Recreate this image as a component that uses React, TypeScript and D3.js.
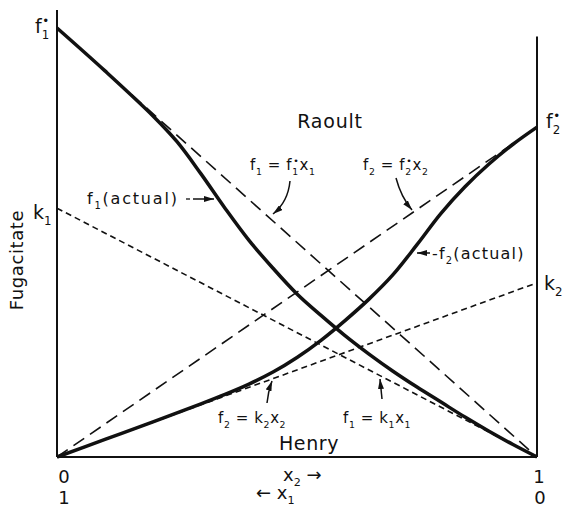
import React from "react";
import * as d3 from "d3";

// Mole fraction of component 2 (x2); x1 = 1 - x2
const f1Actual: [number, number][] = [
  [0, 1.0], [0.1, 0.9], [0.2, 0.795], [0.25, 0.735], [0.3, 0.66], [0.35, 0.58],
  [0.4, 0.505], [0.45, 0.44], [0.5, 0.38], [0.55, 0.33], [0.6, 0.283], [0.65, 0.24],
  [0.7, 0.2], [0.75, 0.163], [0.8, 0.128], [0.85, 0.093], [0.9, 0.06], [0.95, 0.029],
  [1, 0],
];
const f2Actual: [number, number][] = [
  [0, 0], [0.1, 0.041], [0.2, 0.082], [0.3, 0.124], [0.35, 0.146], [0.4, 0.17],
  [0.45, 0.198], [0.5, 0.232], [0.55, 0.272], [0.6, 0.318], [0.65, 0.368],
  [0.7, 0.425], [0.75, 0.495], [0.8, 0.568], [0.85, 0.63], [0.9, 0.683],
  [0.95, 0.729], [1, 0.769],
];
// pure-component fugacities and Henry constants
const f1Star = 1.0;
const f2Star = 0.769;
const k1 = 0.58;
const k2 = 0.406;
const x2Ticks = ["0", "1"];
const x1Ticks = ["1", "0"];

type Part = { t: string; k?: "sub" | "sup" | "stack" };

function Rich({ x, y, parts, size, anchor = "start", ls = 0 }: { x: number; y: number; parts: Part[]; size: number; anchor?: string; ls?: number }) {
  let cur = 0;
  const kids: React.ReactNode[] = [];
  parts.forEach((p, i) => {
    if (p.k === "sub") {
      const target = 0.3 * size;
      kids.push(<tspan key={i} dy={target - cur} fontSize={size * 0.62}>{p.t}</tspan>);
      cur = target;
    } else if (p.k === "sup" || p.k === "stack") {
      const target = -0.42 * size;
      kids.push(
        <tspan key={i} dy={target - cur} dx={p.k === "stack" ? -size * 0.36 : 0} fontSize={size * 0.62}>{p.t}</tspan>
      );
      cur = target;
    } else {
      kids.push(<tspan key={i} dy={-cur} fontSize={size}>{p.t}</tspan>);
      cur = 0;
    }
  });
  return (
    <text x={x} y={y} textAnchor={anchor as any} fontSize={size} letterSpacing={ls} fill="#111">
      {kids}
    </text>
  );
}

export default function App() {
  const W = 562, H = 509;
  const x = d3.scaleLinear().domain([0, 1]).range([57, 537]);
  const y = d3.scaleLinear().domain([0, 1]).range([457, 28]);
  const line = d3.line<[number, number]>().x((d) => x(d[0])).y((d) => y(d[1])).curve(d3.curveCatmullRom.alpha(0.5));
  const seg = (a: [number, number], b: [number, number]) => d3.line<[number, number]>().x((d) => x(d[0])).y((d) => y(d[1]))([a, b]) as string;

  const ink = "#111";
  const fs = 15;

  return (
    <svg width={W} height={H} style={{ position: "absolute", left: 0, top: 0, background: "#fff" }} fontFamily="DejaVu Sans, sans-serif">
      <defs>
        <marker id="ah" viewBox="0 0 10 6" refX="10" refY="3" markerWidth="10" markerHeight="6" markerUnits="userSpaceOnUse" orient="auto">
          <path d="M0,0 L10,3 L0,6 Z" fill={ink} />
        </marker>
      </defs>

      {/* axes */}
      <line x1={x(0)} y1={y(0)} x2={x(1)} y2={y(0)} stroke={ink} strokeWidth={2} />
      <line x1={x(0)} y1={y(0)} x2={x(0)} y2={10} stroke={ink} strokeWidth={2} />
      <line x1={x(1)} y1={y(0)} x2={x(1)} y2={y(0.98)} stroke={ink} strokeWidth={2} />

      {/* Raoult's law lines */}
      <path d={seg([0, f1Star], [1, 0])} stroke={ink} strokeWidth={1.6} strokeDasharray="13 7" fill="none" />
      <path d={seg([0, 0], [1, f2Star])} stroke={ink} strokeWidth={1.6} strokeDasharray="13 7" fill="none" />
      {/* Henry's law lines */}
      <path d={seg([0, k1], [1, 0])} stroke={ink} strokeWidth={1.6} strokeDasharray="6 4" fill="none" />
      <path d={seg([0, 0], [1, k2])} stroke={ink} strokeWidth={1.6} strokeDasharray="6 4" fill="none" />

      {/* actual fugacities */}
      <path d={line(f1Actual) as string} stroke={ink} strokeWidth={3.5} fill="none" strokeLinejoin="round" />
      <path d={line(f2Actual) as string} stroke={ink} strokeWidth={3.5} fill="none" strokeLinejoin="round" />

      {/* axis end labels */}
      <Rich x={35} y={33} size={19} parts={[{ t: "f" }, { t: "1", k: "sub" }, { t: "•", k: "stack" }]} />
      <Rich x={33} y={219} size={19} parts={[{ t: "k" }, { t: "1", k: "sub" }]} />
      <Rich x={546} y={128} size={19} parts={[{ t: "f" }, { t: "2", k: "sub" }, { t: "•", k: "stack" }]} />
      <Rich x={544} y={290} size={19} parts={[{ t: "k" }, { t: "2", k: "sub" }]} />

      <text transform="translate(23,260) rotate(-90)" textAnchor="middle" fontSize={18} letterSpacing={0.6} fill={ink}>Fugacitate</text>

      {/* tick labels */}
      {x2Ticks.map((t, i) => (
        <text key={"a" + i} x={x(i) + (i === 0 ? 7 : 2)} y={483} textAnchor="middle" fontSize={18} fill={ink}>{t}</text>
      ))}
      {x1Ticks.map((t, i) => (
        <text key={"b" + i} x={x(i) + (i === 0 ? 7 : 3)} y={504} textAnchor="middle" fontSize={18} fill={ink}>{t}</text>
      ))}
      <Rich x={283} y={481} size={18} parts={[{ t: "x" }, { t: "2", k: "sub" }, { t: " →" }]} />
      <Rich x={256} y={499} size={18} parts={[{ t: "← x" }, { t: "1", k: "sub" }]} />

      {/* region labels */}
      <text x={330} y={128} textAnchor="middle" fontSize={19} letterSpacing={0.8} fill={ink}>Raoult</text>
      <text x={309} y={450} textAnchor="middle" fontSize={19} letterSpacing={0.6} fill={ink}>Henry</text>

      {/* Raoult annotations */}
      <Rich x={250} y={170} size={fs} ls={0.6} parts={[{ t: "f" }, { t: "1", k: "sub" }, { t: " = f" }, { t: "1", k: "sub" }, { t: "•", k: "stack" }, { t: "x" }, { t: "1", k: "sub" }]} />
      <path d="M290,181 Q288,202 273,214" stroke={ink} strokeWidth={1.5} fill="none" markerEnd="url(#ah)" />
      <Rich x={363} y={170} size={fs} ls={0.6} parts={[{ t: "f" }, { t: "2", k: "sub" }, { t: " = f" }, { t: "2", k: "sub" }, { t: "•", k: "stack" }, { t: "x" }, { t: "2", k: "sub" }]} />
      <path d="M396,178 Q401,197 412,210" stroke={ink} strokeWidth={1.5} fill="none" markerEnd="url(#ah)" />

      {/* actual-curve annotations */}
      <Rich x={87} y={204} size={16} ls={1.8} parts={[{ t: "f" }, { t: "1", k: "sub" }, { t: "(actual)" }]} />
      <line x1={186} y1={199} x2={190} y2={199} stroke={ink} strokeWidth={1.3} />
      <line x1={193} y1={199} x2={214} y2={199} stroke={ink} strokeWidth={1.5} markerEnd="url(#ah)" />
      <Rich x={432} y={259} size={16} ls={1.2} parts={[{ t: "-f" }, { t: "2", k: "sub" }, { t: "(actual)" }]} />
      <line x1={430} y1={253} x2={417} y2={253} stroke={ink} strokeWidth={1.5} markerEnd="url(#ah)" />

      {/* Henry annotations */}
      <Rich x={218} y={423} size={fs} ls={0.6} parts={[{ t: "f" }, { t: "2", k: "sub" }, { t: " = k" }, { t: "2", k: "sub" }, { t: "x" }, { t: "2", k: "sub" }]} />
      <path d="M267,403 Q268,392 272,381" stroke={ink} strokeWidth={1.5} fill="none" markerEnd="url(#ah)" />
      <Rich x={343} y={423} size={fs} ls={0.6} parts={[{ t: "f" }, { t: "1", k: "sub" }, { t: " = k" }, { t: "1", k: "sub" }, { t: "x" }, { t: "1", k: "sub" }]} />
      <path d="M382,399 Q381,389 380,379" stroke={ink} strokeWidth={1.5} fill="none" markerEnd="url(#ah)" />
    </svg>
  );
}
